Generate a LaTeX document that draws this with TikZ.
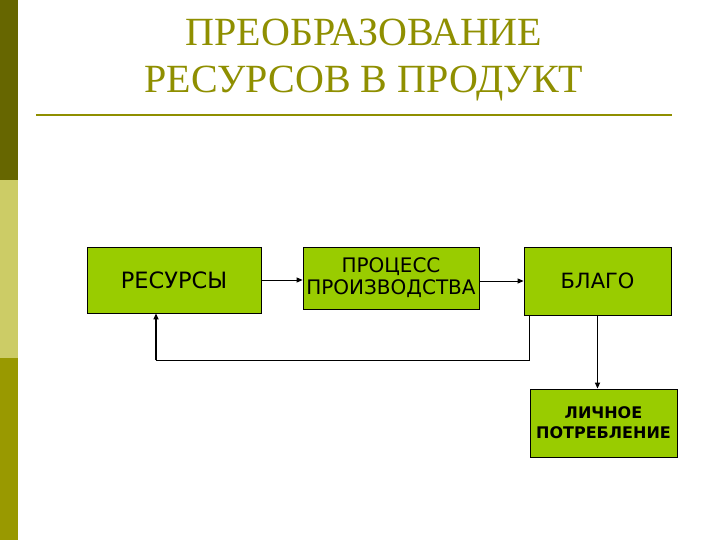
\documentclass[tikz,border=0pt]{standalone}
\usepackage{fontspec}
\setmainfont{Liberation Serif}
\setsansfont{DejaVu Sans}
\usetikzlibrary{arrows.meta,calc}
\definecolor{olivedark}{HTML}{666600}
\definecolor{olivelight}{HTML}{CCCC66}
\definecolor{olivemid}{HTML}{999900}
\definecolor{titleolive}{HTML}{8F8F00}
\definecolor{boxgreen}{HTML}{99CC00}

\tikzset{
  block/.style={draw=black,fill=boxgreen,line width=0.8pt,inner sep=1pt,align=center,font=\sffamily},
  arr/.style={-{Triangle[length=6pt,width=5pt]},line width=0.8pt}
}

\begin{document}
\begin{tikzpicture}[x=1pt,y=-1pt]
 \fill[white] (0,0) rectangle (720,540);
 \useasboundingbox (0,0) rectangle (720,540);
 % left stripe
 \fill[olivedark] (0,0) rectangle (18,180);
 \fill[olivelight] (0,180) rectangle (18,358);
 \fill[olivemid] (0,358) rectangle (18,540);
 % title
 \node[titleolive,font=\fontsize{40}{47}\selectfont,align=center] (title) at (364,60) {ПРЕОБРАЗОВАНИЕ\\РЕСУРСОВ В ПРОДУКТ};
 \draw[titleolive,line width=2pt] (36,115) -- (672,115);
 % blocks
 \node[block,minimum width=174,minimum height=66,font=\sffamily\fontsize{22.5}{26}\selectfont] (res) at (174,280) {РЕСУРСЫ};
 \node[block,minimum width=176,minimum height=62,font=\sffamily\fontsize{20}{22}\selectfont] (proc) at (391,278) {ПРОЦЕСС\\ПРОИЗВОДСТВА};
 \node[block,minimum width=147,minimum height=68,font=\sffamily\fontsize{21}{25}\selectfont] (blago) at (597.5,281) {БЛАГО};
 \node[block,minimum width=147,minimum height=68,font=\sffamily\bfseries\fontsize{16}{20}\selectfont] (lich) at (603.5,423) {ЛИЧНОЕ\\ПОТРЕБЛЕНИЕ};
 % connectors
 \draw[arr] (res.east) -- (res.east -| proc.west);
 \draw[arr] (proc.east |- blago.west) -- (blago.west);
 \coordinate (back) at ($(res.south)+(-18,47)$);
 \draw[line width=0.8pt] ([xshift=6]blago.south west) |- (back);
 \draw[arr,line width=1.6pt] (back) -- (back |- res.south);
 \draw[arr,line width=1.6pt] (blago.south) -- (blago.south |- lich.north);
\end{tikzpicture}
\end{document}
